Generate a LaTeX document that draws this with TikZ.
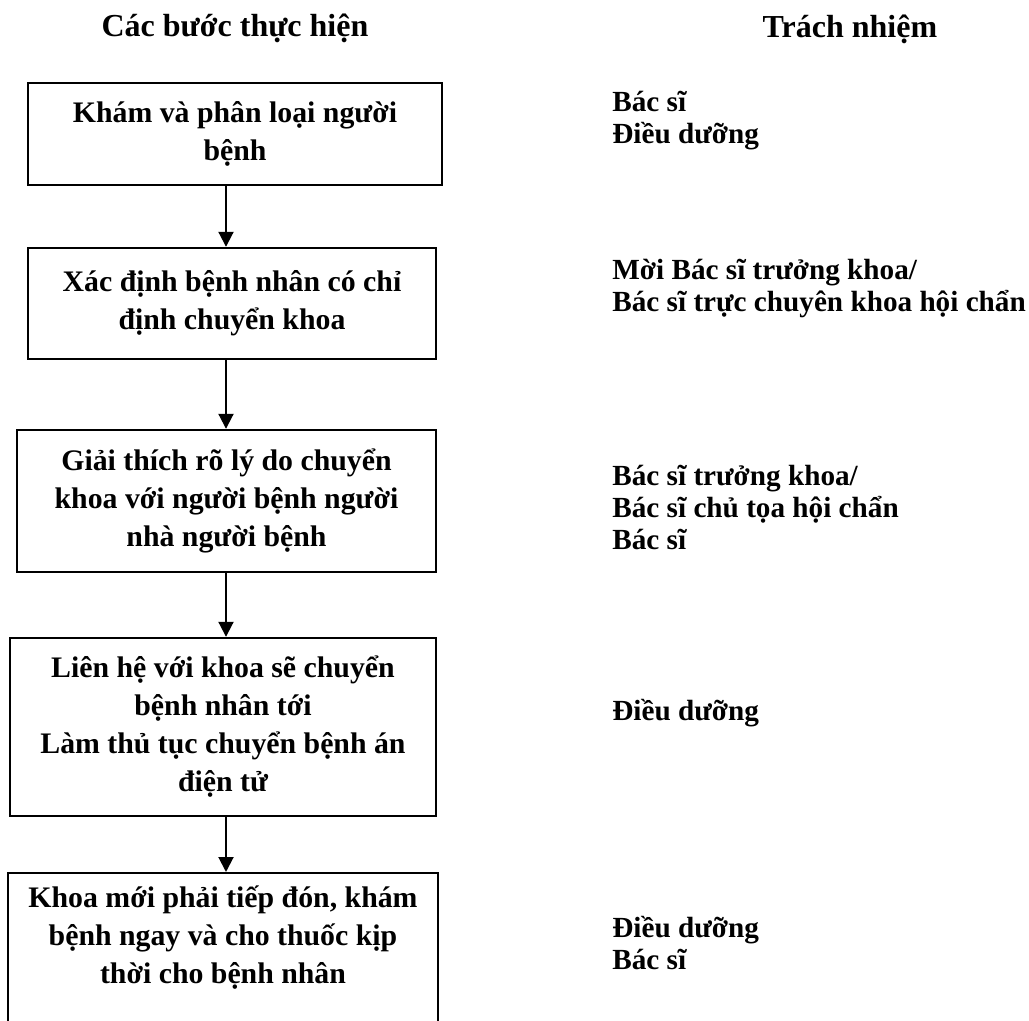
\documentclass[tikz,border=0pt]{standalone}
\usepackage{fontspec}
\setmainfont{Liberation Serif}
\usetikzlibrary{arrows.meta}
\tikzset{
  box/.style={draw, line width=1.2pt, inner sep=0pt, align=center,
    font=\bfseries\fontsize{14.9}{19}\selectfont},
  boxtext/.style={inner sep=0pt, align=center,
    font=\bfseries\fontsize{14.9}{19}\selectfont},
  head/.style={inner sep=0pt, font=\bfseries\fontsize{16}{20}\selectfont},
  resp/.style={inner sep=0pt, align=left, anchor=base west,
    font=\bfseries\fontsize{14.6}{16}\selectfont},
  arr/.style={line width=1pt, -{Triangle[length=7.5pt,width=7.5pt]}}
}
\begin{document}
\begin{tikzpicture}[x=0.5pt,y=-0.5pt]
\useasboundingbox[fill=white] (0,0) rectangle (1029,1021);
\node[head, anchor=base] (h1) at (235,37) {Các bước thực hiện};
\node[head, anchor=base] (h2) at (850,38) {Trách nhiệm};

\node[box, minimum width=207pt, minimum height=51pt] (b1) at (235,134)
  {Khám và phân loại người\\bệnh};
\node[box, minimum width=204pt, minimum height=55.5pt] (b2) at (232,303.5)
  {Xác định bệnh nhân có chỉ\\định chuyển khoa};
\node[box, minimum width=209.5pt, minimum height=71pt] (b3) at (226.5,501)
  {Giải thích rõ lý do chuyển\\khoa với người bệnh người\\nhà người bệnh};
\node[box, minimum width=213pt, minimum height=89pt] (b4) at (223,727)
  {Liên hệ với khoa sẽ chuyển\\bệnh nhân tới\\Làm thủ tục chuyển bệnh án\\điện tử};
\node[box, minimum width=215pt, minimum height=90pt, anchor=north] (b5) at (223,872) {};
\node[boxtext] (t5) at (223,938)
  {Khoa mới phải tiếp đón, khám\\bệnh ngay và cho thuốc kịp\\thời cho bệnh nhân};

\coordinate (ax) at (226,0);
\draw[arr] (b1.south -| ax) -- (b2.north -| ax);
\draw[arr] (b2.south -| ax) -- (b3.north -| ax);
\draw[arr] (b3.south -| ax) -- (b4.north -| ax);
\draw[arr] (b4.south -| ax) -- (b5.north -| ax);

\node[resp] (r1) at (612,144) {Bác sĩ\\Điều dưỡng};
\node[resp] (r2) at (612,312) {Mời Bác sĩ trưởng khoa/\\Bác sĩ trực chuyên khoa hội chẩn};
\node[resp] (r3) at (612,550) {Bác sĩ trưởng khoa/\\Bác sĩ chủ tọa hội chẩn\\Bác sĩ};
\node[resp] (r4) at (612,720) {Điều dưỡng};
\node[resp] (r5) at (612,969) {Điều dưỡng\\Bác sĩ};
\end{tikzpicture}
\end{document}
